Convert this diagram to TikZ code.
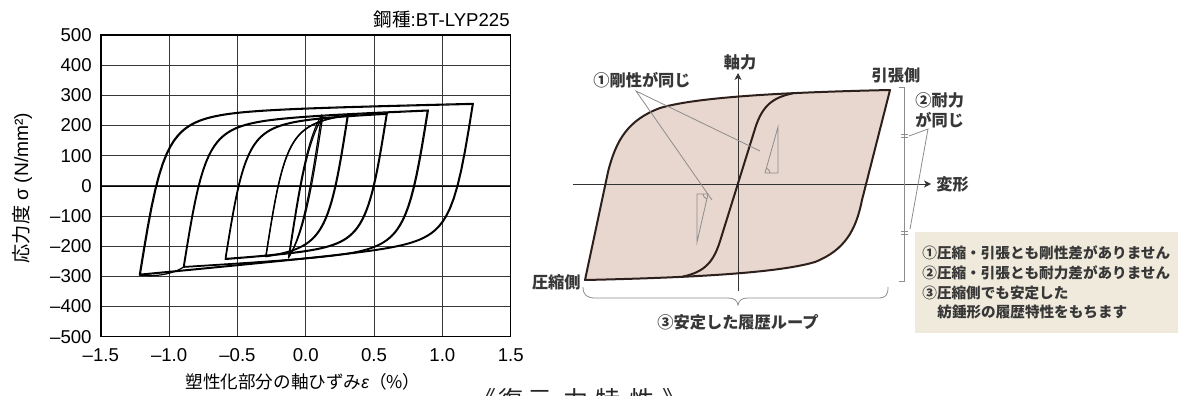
\documentclass[tikz,border=0pt]{standalone}
\usepackage{fontspec}
\setmainfont{Liberation Sans}
\newfontfamily\jp{Noto Sans CJK JP}
\usetikzlibrary{arrows.meta}
\definecolor{gridc}{RGB}{55,55,55}
\definecolor{loopfill}{RGB}{232,215,207}
\definecolor{loopline}{RGB}{45,32,28}
\definecolor{leadc}{RGB}{140,140,140}
\definecolor{boxfill}{RGB}{240,234,221}
\definecolor{txt}{RGB}{55,55,55}
\pgfmathdeclarefunction{gmp}{3}{%
  \pgfmathparse{#3*#1 + 2800*#1/pow(1+pow(2800*#1/#2,2.2),1/2.2)}%
}
\newcommand\hyloop[8]{%
  \pgfmathsetmacro\hspan{#1-(#3)}%
  \pgfmathsetmacro\hdel{#2-(#4)}%
  \pgfmathsetmacro\hgd{gmp(\hspan,#5,#6)}%
  \pgfmathsetmacro\hga{gmp(\hspan,#7,#8)}%
  \draw[hyst] (#1,#2)
    -- plot[variable=\t,domain=0.003:\hspan,samples=90] ({#1-\t},{#2-\hdel*(gmp(\t,#5,#6)/\hgd)})
    -- plot[variable=\t,domain=0.003:\hspan,samples=90] ({#3+\t},{#4+\hdel*(gmp(\t,#7,#8)/\hga)})
    -- cycle;
}
\begin{document}
\begin{tikzpicture}[x=0.5pt,y=-0.5pt,
  grid/.style={draw=gridc,line width=0.45pt},
  frame/.style={draw=black,line width=0.7pt},
  tick/.style={font=\fontsize{9.3}{11}\selectfont,inner sep=0pt},
  hyst/.style={draw=black,line width=0.6pt,line join=round},
  rlbl/.style={font=\jp\bfseries\fontsize{8.1}{9}\selectfont,text=txt,inner sep=0pt},
  btxt/.style={font=\jp\bfseries\fontsize{7.3}{8}\selectfont,text=txt,inner sep=0pt,anchor=west},
  axisln/.style={draw=black!80,line width=0.45pt,-{Stealth[length=3.5pt,width=3.5pt,inset=1pt]}},
  lead/.style={draw=leadc,line width=0.4pt},
  loopln/.style={draw=loopline,line width=1pt,line join=round},
  capt/.style={font=\jp\fontsize{12.5}{13}\selectfont,text=black!85,inner sep=0pt,anchor=base}]
\useasboundingbox (0,0) rectangle (1183,396);
\fill[white] (0,0) rectangle (1183,396);

% ---------------- left chart ----------------
\foreach \i in {1,...,5} \draw[grid] ({100.8+68.32*\i},35) -- ({100.8+68.32*\i},336.7);
\foreach \j in {1,...,9} \draw[grid] (100.8,{35+30.17*\j}) -- (510.7,{35+30.17*\j});
\draw[draw=black,line width=0.6pt] (100.8,186.7) -- (510.7,186.7);
\draw[frame] (100.8,35) rectangle (510.7,336.7);

\foreach \lab [count=\j from 0] in {500,400,300,200,100,0,–100,–200,–300,–400,–500}
  \node[tick,anchor=east] (yl\j) at (92,{35+30.17*\j}) {\lab};
\foreach \lab [count=\i from 0] in {–1.5,–1.0,–0.5,0.0,0.5,1.0,1.5}
  \node[tick] (xl\i) at ({100.8+68.32*\i},355) {\lab};

\node[tick,anchor=east] (title) at (510,19) {{\jp 鋼種}:BT-LYP225};
\node[tick,font=\fontsize{8.8}{10}\selectfont] (xtitle) at (303,382) {{\jp 塑性化部分の軸ひずみ}{\itshape ε}{\jp （\%）}};
\node[tick,rotate=90,font=\fontsize{9.6}{11}\selectfont] (ytitle) at (22,188) {{\jp 応力度} σ (N/mm²)};

\begin{scope}[shift={(305.7,186.7)},x=68.3pt,y=0.15085pt]
\hyloop{1.227}{276}{-1.218}{-293}{465}{43}{545}{10}
\hyloop{1.220}{273}{-1.210}{-290}{462}{43}{540}{10}
\hyloop{0.898}{254}{-0.896}{-267}{473}{27}{489}{18}
\hyloop{0.890}{251}{-0.890}{-265}{470}{27}{485}{18}
\hyloop{0.597}{243}{-0.590}{-241}{448}{30}{460}{20}
\hyloop{0.590}{240}{-0.585}{-238}{445}{30}{458}{20}
\hyloop{0.312}{238}{-0.293}{-232}{452}{30}{452}{30}
\hyloop{0.305}{236}{-0.290}{-230}{450}{30}{450}{30}
\hyloop{0.117}{238}{-0.127}{-237}{552}{30}{552}{30}
\hyloop{0.125}{232}{-0.120}{-230}{540}{30}{540}{30}
\draw[hyst] (-1.218,-293) .. controls (-1.12,-299) and (-0.98,-292) .. (-0.896,-267);
\end{scope}

% ---------------- right diagram ----------------
\coordinate (BL) at (585,280);
\coordinate (TR) at (890,90);
\fill[loopfill] (BL) -- (608,172) .. controls (616,140) and (628,120) .. (660,108)
   .. controls (700,96) and (800,92) .. (TR)
   -- (862,200) .. controls (856,230) and (845,250) .. (815,262)
   .. controls (775,274) and (675,278) .. (BL) -- cycle;

\coordinate (xa0) at (573,184);
\coordinate (xa1) at (931,184);
\coordinate (ya0) at (738,291);
\coordinate (ya1) at (738,73);
\draw[axisln] (xa0) -- (xa1);
\draw[axisln] (ya0) -- (ya1);

% stiffness triangles
\draw[lead] (765,173) -- (778,127) -- (778,173) -- cycle;
\draw[lead] (770,173) .. controls (770,170.8) and (768.5,168.8) .. (766.4,168.2);
\draw[lead] (697,194) -- (708,194) -- (697,242) -- cycle;
\draw[lead] (703,194) .. controls (703,196.3) and (704.8,198.7) .. (706.9,198.9);

% outline
\draw[loopln] (BL) -- (608,172) .. controls (616,140) and (628,120) .. (660,108)
   .. controls (700,96) and (800,92) .. (TR)
   -- (862,200) .. controls (856,230) and (845,250) .. (815,262)
   .. controls (775,274) and (675,278) .. (BL) -- cycle;
\draw[loopln] (682,276.8) .. controls (705,272) and (714,262) .. (721,238) -- (754,132)
   .. controls (761,108) and (770,98) .. (793,93.3);

% labels
\node[rlbl] (jiku) at (740,62) {軸力};
\node[rlbl,anchor=west] (henkei) at (936,184) {変形};
\node[rlbl] (hippari) at (896,75) {引張側};
\node[rlbl,anchor=east] (asshuku) at (581,282) {圧縮側};
\node[rlbl] (gosei) at (642,80) {①剛性が同じ};
\node[rlbl,anchor=west] (tai1) at (915,100) {②耐力};
\node[rlbl,anchor=west] (tai2) at (915,120) {が同じ};
\node[rlbl] (antei) at (738,322) {③安定した履歴ループ};

% leaders for (1)
\coordinate (v1) at (636,91);
\coordinate (t1) at (760,151);
\coordinate (t2) at (712,200);
\draw[lead] (t1) -- (v1) -- (t2);

% right bracket with equal marks
\draw[lead] (899,87) -- (904,87) -- (904,281) -- (899,281);
\draw[lead] (901,134) -- (908,134) (901,137) -- (908,137);
\draw[lead] (901,231) -- (908,231) (901,234) -- (908,234);
\coordinate (eqU) at (909,136);
\coordinate (eqL) at (910,229);
\coordinate (v2) at (928,129);
\draw[lead] (eqU) -- (v2) -- (eqL);

% bottom brace
\draw[lead] (583,287) .. controls (583,295) and (587,298) .. (595,298) -- (728,298)
  .. controls (734,298) and (737,300) .. (738,305)
  .. controls (739,300) and (742,298) .. (748,298) -- (878,298)
  .. controls (886,298) and (888,295) .. (888,287);

% note box
\node[fill=boxfill,inner sep=0pt,minimum width=131.5pt,minimum height=50.5pt,anchor=north west] (box) at (915,232) {};
\node[btxt] (b1) at (922,253) {①圧縮・引張とも剛性差がありません};
\node[btxt] (b2) at (922,273) {②圧縮・引張とも耐力差がありません};
\node[btxt] (b3) at (922,293) {③圧縮側でも安定した};
\node[btxt] (b4) at (937,312) {紡錘形の履歴特性をもちます};

% caption (cut off at the bottom edge, as in the original)
\node[capt] (c1) at (484,409) {《};
\node[capt] (c2) at (511,409) {復};
\node[capt] (c3) at (540,409) {元};
\node[capt] (c4) at (576,409) {力};
\node[capt] (c5) at (608,409) {特};
\node[capt] (c6) at (642,409) {性};
\node[capt] (c7) at (675,409) {》};
\end{tikzpicture}
\end{document}
